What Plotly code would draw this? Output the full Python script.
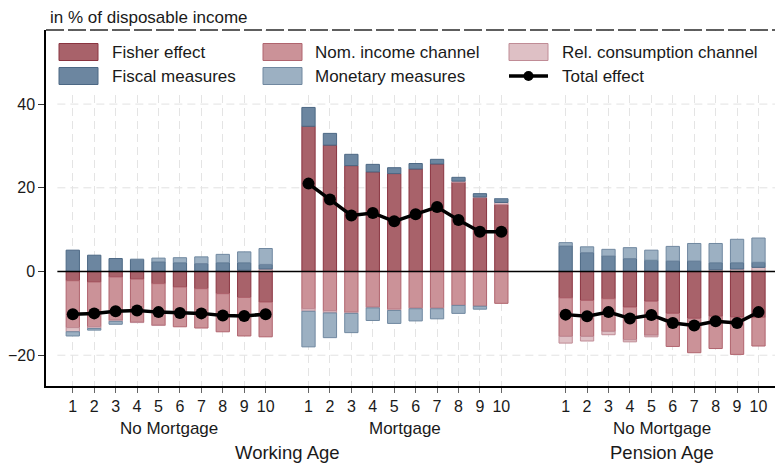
import plotly.graph_objects as go

# ---- data -------------------------------------------------------------
deciles = [str(i) for i in range(1, 11)]
panel_labels = ["No Mortgage", "Mortgage", "No Mortgage"]
age_labels = ["Working Age", "Pension Age"]

# effects in % of disposable income, by income decile
# order: working age / no mortgage, working age / mortgage, pension age / no mortgage
fisher = [
    -2.2, -2.5, -1.3, -1.8, -2.9, -3.7, -4.1, -5.3, -6.2, -7.3,
    34.7, 30.2, 25.3, 23.8, 23.4, 24.5, 25.7, 21.3, 17.6, 16.0,
    -6.3, -6.9, -6.5, -8.5, -7.1, -10.0, -11.2, -10.7, -10.9, -11.0,
]
nom_income = [
    -11.2, -10.7, -10.3, -10.3, -9.9, -9.5, -9.4, -9.1, -9.2, -8.3,
    -8.9, -9.4, -9.7, -8.5, -9.0, -8.7, -8.7, -8.1, -8.3, -7.6,
    -9.2, -8.6, -7.8, -7.8, -8.1, -7.9, -8.2, -7.7, -8.9, -6.8,
]
rel_consumption = [
    -1.0, -0.4, -0.3, -0.1, -0.1, 0.0, 0.0, 0.0, 0.3, 0.6,
    -0.6, -0.5, -0.3, -0.2, -0.3, -0.2, -0.2, 0.3, 0.2, 0.5,
    -1.6, -1.1, -0.8, -0.5, -0.4, 0.0, 0.0, 0.4, 0.6, 1.0,
]
fiscal = [
    5.1, 3.9, 3.1, 2.9, 2.3, 2.1, 1.9, 2.1, 1.8, 1.1,
    4.5, 2.8, 2.7, 1.8, 1.4, 1.3, 1.1, 0.9, 0.8, 0.9,
    6.1, 4.5, 3.7, 3.1, 2.7, 2.5, 2.5, 1.7, 1.5, 1.2,
]
monetary = [
    -1.0, -0.4, -0.7, 0.0, 0.9, 1.2, 1.6, 2.0, 2.6, 3.8,
    -8.5, -5.9, -4.6, -3.0, -3.1, -2.9, -2.4, -1.9, -0.7, 0.0,
    0.8, 1.4, 1.6, 2.6, 2.4, 3.5, 4.2, 4.6, 5.6, 5.8,
]
total = [
    -10.2, -10.0, -9.5, -9.3, -9.7, -9.9, -10.0, -10.5, -10.6, -10.2,
    21.0, 17.2, 13.4, 14.0, 12.0, 13.7, 15.4, 12.3, 9.5, 9.5,
    -10.3, -10.7, -9.7, -11.2, -10.4, -12.3, -12.9, -11.9, -12.3, -9.7,
]

# ---- layout helpers ----------------------------------------------------
W, H = 775, 464
L, R, T, B = 46, 0, 30, 78
PW, PH = W - L - R, H - T - B


def px(xp):
    return (xp - L) / PW


def py(yp):
    return (H - B - yp) / PH


slot_start = [1, 12, 24]
xpos = [s + i for s in slot_start for i in range(10)]
X_RANGE = [-0.25, 33.77]
Y_RANGE = [-27.35, 57.7]

FONT = "Liberation Sans, Arial, Helvetica, sans-serif"
TXT = "#1a1a1a"

styles = {
    "Fisher effect": ("rgb(168,98,106)", "rgb(138,52,64)"),
    "Nom. income channel": ("rgb(203,146,152)", "rgb(176,100,110)"),
    "Rel. consumption channel": ("rgb(222,192,197)", "rgb(192,140,150)"),
    "Fiscal measures": ("rgb(108,134,160)", "rgb(76,104,132)"),
    "Monetary measures": ("rgb(156,176,194)", "rgb(112,136,160)"),
}
series = [
    ("Fisher effect", fisher),
    ("Nom. income channel", nom_income),
    ("Rel. consumption channel", rel_consumption),
    ("Fiscal measures", fiscal),
    ("Monetary measures", monetary),
]

fig = go.Figure()
for name, vals in series:
    fill, edge = styles[name]
    fig.add_trace(go.Bar(
        x=xpos, y=vals, name=name, width=0.62,
        marker=dict(color=fill, line=dict(color=edge, width=1)),
        showlegend=False, hoverinfo="skip",
    ))

# total effect: one connected line per panel
tx, ty = [], []
for g in range(3):
    tx += xpos[g * 10:(g + 1) * 10] + [None]
    ty += total[g * 10:(g + 1) * 10] + [None]
fig.add_trace(go.Scatter(
    x=tx, y=ty, name="Total effect", mode="lines+markers",
    line=dict(color="black", width=3.5),
    marker=dict(color="black", size=12),
    connectgaps=False, showlegend=False, hoverinfo="skip",
))

shapes = []
# horizontal grid and zero line
for v in [40, 20, -20]:
    shapes.append(dict(type="line", xref="x", yref="y", x0=0.28, x1=X_RANGE[1],
                       y0=v, y1=v, layer="below",
                       line=dict(color="#e2e2e2", width=1, dash="8px,5px")))
shapes.append(dict(type="line", xref="x", yref="y", x0=0.28, x1=X_RANGE[1],
                   y0=0, y1=0, layer="above", line=dict(color="black", width=1.5)))

# legend panel
shapes.append(dict(type="rect", xref="paper", yref="paper",
                   x0=px(47), x1=1, y0=py(93), y1=py(31), layer="above",
                   fillcolor="white", line=dict(width=0)))
shapes.append(dict(type="line", xref="paper", yref="paper", x0=0, x1=1,
                   y0=1, y1=1, layer="above",
                   line=dict(color="#2a2a2a", width=1.3, dash="18px,4px")))

annotations = []
legend_cols = [(59, 110), (263, 313), (509, 560)]
legend_rows = [52, 76]
entries = [n for n, _ in series] + ["Total effect"]
for k, name in enumerate(entries):
    r, c = divmod(k, 3)
    sx, tx0 = legend_cols[c]
    yc = legend_rows[r]
    if name in styles:
        fill, edge = styles[name]
        shapes.append(dict(type="rect", xref="paper", yref="paper",
                           x0=px(sx), x1=px(sx + 39), y0=py(yc + 8.5), y1=py(yc - 8.5),
                           layer="above", fillcolor=fill, line=dict(color=edge, width=1)))
    else:
        shapes.append(dict(type="line", xref="paper", yref="paper",
                           x0=px(sx), x1=px(sx + 39), y0=py(yc), y1=py(yc),
                           layer="above", line=dict(color="black", width=3.5)))
        shapes.append(dict(type="circle", xref="paper", yref="paper",
                           x0=px(sx + 19.5 - 5), x1=px(sx + 19.5 + 5),
                           y0=py(yc + 5), y1=py(yc - 5),
                           layer="above", fillcolor="black", line=dict(width=0)))
    annotations.append(dict(text=name, xref="paper", yref="paper",
                            x=px(tx0), y=py(yc), xanchor="left", yanchor="middle",
                            showarrow=False, font=dict(family=FONT, size=17, color=TXT)))

annotations.append(dict(text="in % of disposable income", xref="paper", yref="paper",
                        x=px(48), y=py(18), xanchor="left", yanchor="middle",
                        showarrow=False, font=dict(family=FONT, size=17, color=TXT)))

# panel and age-group labels
for g, lab in enumerate(panel_labels):
    centre = sum(xpos[g * 10:(g + 1) * 10]) / 10
    annotations.append(dict(text=lab, xref="x", yref="paper", x=centre, y=py(428),
                            xanchor="center", yanchor="middle", showarrow=False,
                            font=dict(family=FONT, size=17, color=TXT)))
age_centres = [(xpos[0] + xpos[19]) / 2, sum(xpos[20:30]) / 10]
for lab, centre in zip(age_labels, age_centres):
    annotations.append(dict(text=lab, xref="x", yref="paper", x=centre, y=py(452),
                            xanchor="center", yanchor="middle", showarrow=False,
                            font=dict(family=FONT, size=18.5, color=TXT)))

fig.update_layout(
    width=W, height=H,
    margin=dict(l=L, r=R, t=T, b=B, pad=0),
    barmode="relative",
    plot_bgcolor="white", paper_bgcolor="white",
    font=dict(family=FONT, size=16, color=TXT),
    shapes=shapes, annotations=annotations,
    showlegend=False,
    xaxis=dict(
        range=X_RANGE, tickmode="array", tickvals=xpos, ticktext=deciles * 3,
        showline=True, linecolor="black", linewidth=1.5,
        ticks="outside", ticklen=5, tickcolor="#666", tickwidth=1,
        showgrid=True, gridcolor="#e4e4e4", griddash="8px,5px", gridwidth=1,
        zeroline=False, tickfont=dict(size=16, family=FONT, color=TXT),
    ),
    yaxis=dict(
        range=Y_RANGE, tickmode="array", tickvals=[-20, 0, 20, 40],
        showline=True, linecolor="black", linewidth=1.5,
        ticks="outside", ticklen=6, tickcolor="#333", tickwidth=1,
        showgrid=False, zeroline=False,
        tickfont=dict(size=16, family=FONT, color=TXT),
    ),
)

fig.write_html("out.html")
